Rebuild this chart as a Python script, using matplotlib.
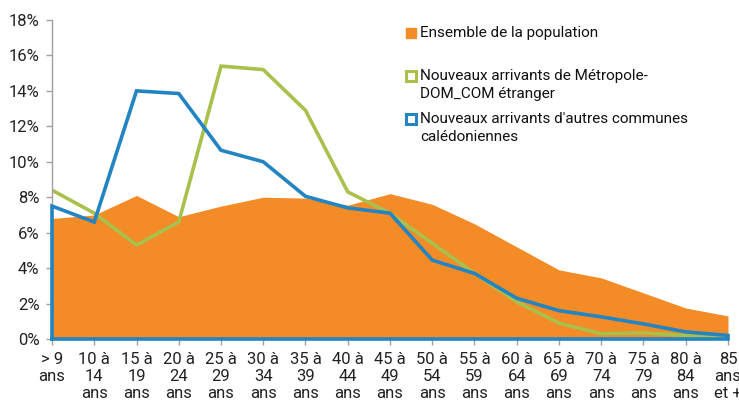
import matplotlib
matplotlib.use("Agg")
import matplotlib.pyplot as plt
from matplotlib.ticker import FuncFormatter, MultipleLocator

categories = ["> 9\nans", "10 à\n14\nans", "15 à\n19\nans", "20 à\n24\nans", "25 à\n29\nans",
              "30 à\n34\nans", "35 à\n39\nans", "40 à\n44\nans", "45 à\n49\nans", "50 à\n54\nans",
              "55 à\n59\nans", "60 à\n64\nans", "65 à\n69\nans", "70 à\n74\nans", "75 à\n79\nans",
              "80 à\n84\nans", "85\nans\net +"]
ensemble = [6.8, 7.0, 8.1, 6.9, 7.5, 8.0, 7.95, 7.55, 8.2, 7.6, 6.5, 5.2, 3.9, 3.45, 2.6, 1.75, 1.3]
metropole = [8.4, 7.1, 5.3, 6.6, 15.4, 15.2, 12.9, 8.3, 7.1, 5.4, 3.7, 2.1, 0.9, 0.3, 0.35, 0.2, 0.1]
communes = [7.5, 6.6, 14.0, 13.85, 10.65, 10.0, 8.05, 7.4, 7.1, 4.45, 3.7, 2.3, 1.6, 1.25, 0.85, 0.4, 0.2]

labels = ["Ensemble de la population",
          "Nouveaux arrivants de Métropole-\nDOM_COM étranger",
          "Nouveaux arrivants d'autres communes\ncalédoniennes"]

ORANGE = "#F38B26"
GREEN = "#AAC04C"
BLUE = "#2384C2"

plt.rcParams['font.family'] = ['Roboto', 'DejaVu Sans']

fig = plt.figure(figsize=(7.39, 4.01), dpi=100)
W, H = 739, 401
ax = fig.add_axes([52 / W, 1 - 339 / H, (728 - 52) / W, (339 - 20) / H])

x = list(range(len(categories)))
ax.fill_between(x, 0, ensemble, color=ORANGE, linewidth=0, zorder=1)
ax.plot(x, metropole, color=GREEN, lw=2.6, zorder=2, solid_joinstyle='miter')
# blue series drawn as outline closed on the baseline
bx = [x[0]] + x + [x[-1], x[0]]
by = [0] + communes + [0, 0]
ax.plot(bx, by, color=BLUE, lw=2.6, zorder=3, solid_joinstyle='miter', clip_on=False)

ax.set_xlim(x[0], x[-1])
ax.set_ylim(0, 18)
ax.yaxis.set_major_locator(MultipleLocator(2))
ax.yaxis.set_major_formatter(FuncFormatter(lambda v, p: f"{int(round(v))}%"))
ax.set_xticks(x)
ax.set_xticklabels(categories, fontsize=12, linespacing=1.2)
ax.tick_params(axis='y', labelsize=12, length=4, color="#A0A0A0", width=1, pad=5, labelcolor="#222222")
ax.tick_params(axis='x', length=4, color="#A0A0A0", width=1, pad=5, labelcolor="#222222")
for s in ["top", "right", "bottom"]:
    ax.spines[s].set_visible(False)
ax.spines["left"].set_color("#A0A0A0")
ax.spines["left"].set_linewidth(1)

# legend
fs = 11
tx = 420 / W
fig.lines.append(plt.Line2D([411 / W], [1 - 33 / H], marker='s', markersize=7,
                            markerfacecolor=ORANGE, markeredgecolor=ORANGE, transform=fig.transFigure))
fig.text(tx, 1 - 33 / H, labels[0], fontsize=fs, va='center', ha='left', color="#111111")
fig.lines.append(plt.Line2D([411 / W], [1 - 76 / H], marker='s', markersize=7,
                            markerfacecolor='white', markeredgecolor=GREEN, markeredgewidth=2.2,
                            transform=fig.transFigure))
fig.text(tx, 1 - 69 / H, labels[1], fontsize=fs, va='top', ha='left', color="#111111",
         linespacing=1.4)
fig.lines.append(plt.Line2D([411 / W], [1 - 119 / H], marker='s', markersize=7,
                            markerfacecolor='white', markeredgecolor=BLUE, markeredgewidth=2.2,
                            transform=fig.transFigure))
fig.text(tx, 1 - 112 / H, labels[2], fontsize=fs, va='top', ha='left', color="#111111",
         linespacing=1.4)

fig.savefig("out.png", dpi=100)
